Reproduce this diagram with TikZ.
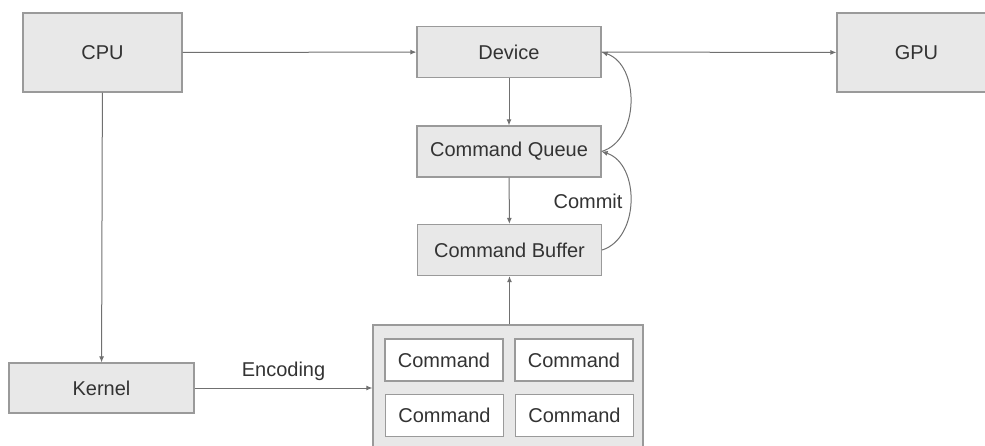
\documentclass[tikz,border=0pt]{standalone}
\usepackage{fontspec}
\setmainfont{Liberation Sans}
\usepackage{xcolor}
\definecolor{boxgray}{HTML}{E8E8E8}
\definecolor{edgegray}{HTML}{9A9A9A}
\definecolor{arrowgray}{HTML}{707070}
\definecolor{textgray}{HTML}{333333}
\usetikzlibrary{arrows.meta,positioning}
\tikzset{
  >={Latex[length=6pt,width=5pt]},
  block/.style={rectangle,draw=edgegray,line width=1.2pt,fill=boxgray,text=textgray,minimum width=184pt,minimum height=51pt},
  unit/.style={block,minimum width=159pt,minimum height=79pt},
  cmd/.style={rectangle,draw=edgegray,line width=1.2pt,fill=white,text=textgray,minimum width=118pt,minimum height=42pt},
  edge/.style={->,line width=1pt,draw=arrowgray},
  lbl/.style={text=textgray}
}

\begin{document}
\begin{tikzpicture}[x=1pt,y=-1pt,font=\fontsize{20}{24}\selectfont]
  \useasboundingbox (0,0) rectangle (985,445);

  % Processors
  \node[unit] (cpu) at (102.5,52.5) {CPU};
  \node[unit] (gpu) at (916.5,52.5) {GPU};

  % Metal objects
  \node[block] (device) at (509,52) {Device};
  \node[block] (queue) at (509,151.5) {Command Queue};
  \node[block] (buffer) at (509.5,250) {Command Buffer};
  \node[block,minimum width=185pt,minimum height=50pt] (kernel) at (101.5,388) {Kernel};

  % Encoder with its commands
  \node[block,minimum width=270pt,minimum height=140pt] (encoder) at (508,395) {};
  \node[cmd] (cmda) at (444,360) {Command};
  \node[cmd] (cmdb) at (574,360) {Command};
  \node[cmd] (cmdc) at (444.5,415.5) {Command};
  \node[cmd] (cmdd) at (574.5,415.5) {Command};

  % Connections
  \draw[edge] (cpu) -- (device);
  \draw[edge] (device) -- (gpu);
  \draw[edge] (cpu) -- (kernel);
  \draw[edge] (device) -- (queue);
  \draw[edge] (queue) -- (buffer);
  \draw[edge] (encoder.north -| buffer) -- (buffer);
  \draw[edge] (kernel) -- node[lbl,above=4pt] {Encoding} (encoder.west |- kernel);

  % Commit loop
  \draw[edge] (queue.east) .. controls (640,140) and (640,65) .. (device.east);
  \draw[edge] (buffer.east) .. controls (640,238) and (640,164) .. (queue.east);
  \node[lbl] (commit) at (588,201) {Commit};
\end{tikzpicture}
\end{document}
